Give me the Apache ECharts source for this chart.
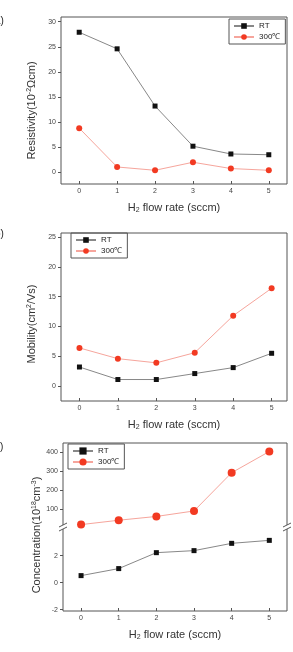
<!DOCTYPE html>
<html>
<head>
<meta charset="utf-8">
<script src="https://cdn.jsdelivr.net/npm/echarts@6/dist/echarts.min.js"></script>
<style>
    html, body { margin: 0; padding: 0; background: #fff; }
    #main { width: 293px; height: 652px; }
</style>
</head>
<body>
<div id="main"></div>
<script>
// H2 flow rate (sccm)
var flowRates = [0, 1, 2, 3, 4, 5];
var flowTicks = [0, 1, 2, 3, 4, 5];

// a) resistivity (10^-2 ohm cm)
var resRT = [27.9, 24.6, 13.2, 5.2, 3.65, 3.5];
var res300 = [8.8, 1.06, 0.4, 2.0, 0.75, 0.4];
var resTicks = [0, 5, 10, 15, 20, 25, 30];

// b) mobility (cm2/Vs)
var mobRT = [3.2, 1.1, 1.1, 2.1, 3.1, 5.5];
var mob300 = [6.4, 4.6, 3.9, 5.6, 11.8, 16.4];
var mobTicks = [0, 5, 10, 15, 20, 25];

// c) concentration (10^18 cm-3), broken axis
var conRT = [0.52, 1.04, 2.22, 2.37, 2.91, 3.13];
var con300 = [17, 40, 60, 89, 291, 403];
var conHighTicks = [100, 200, 300, 400];
var conLowTicks = [-2, 0, 2];

var frameColor = '#555';
var labelColor = '#444';
var fontName = 'Liberation Sans';

function pairs(ys) {
    return flowRates.map(function (x, i) { return [x, ys[i]]; });
}

function rtSeries(ys, grid, size) {
    return {
        name: 'RT', type: 'line', xAxisIndex: grid, yAxisIndex: grid,
        data: pairs(ys), symbol: 'rect', symbolSize: size || 5,
        itemStyle: { color: '#111' },
        lineStyle: { color: '#888', width: 1 },
        z: 3
    };
}

function hotSeries(ys, grid, size) {
    return {
        name: '300℃', type: 'line', xAxisIndex: grid, yAxisIndex: grid,
        data: pairs(ys), symbol: 'circle', symbolSize: size || 6,
        itemStyle: { color: '#f23a22' },
        lineStyle: { color: '#f6a59c', width: 1 },
        z: 2
    };
}

function nameStyle(shift) {
    return {
        fontFamily: fontName, fontSize: 11, color: '#333',
        // extra right padding pushes a rotated name down the axis
        padding: [0, shift || 0, 0, 0],
        rich: {
            sup: { fontFamily: fontName, fontSize: 7, color: '#333', padding: [0, 0, 6, 0] },
            sub: { fontFamily: fontName, fontSize: 7, color: '#333', padding: [6, 0, 0, 0] }
        }
    };
}

function xAxisFor(grid, min, max, showLabel, pos) {
    return {
        type: 'value', gridIndex: grid, min: min, max: max, position: pos || 'bottom',
        name: showLabel ? 'H{sub|2} flow rate (sccm)' : '',
        nameLocation: 'middle', nameGap: 17, nameTextStyle: nameStyle(0),
        axisLine: { show: false, onZero: false },
        axisTick: { show: showLabel, inside: true, length: 3, lineStyle: { color: frameColor }, customValues: flowTicks },
        axisLabel: { show: showLabel, fontSize: 7, color: labelColor, fontFamily: fontName, margin: 4, customValues: flowTicks },
        splitLine: { show: false }
    };
}

function yAxisFor(grid, min, max, ticks, name, shift) {
    return {
        type: 'value', gridIndex: grid, min: min, max: max,
        name: name || '', nameLocation: 'middle', nameGap: 13, nameTextStyle: nameStyle(shift),
        axisLine: { show: false, onZero: false },
        axisTick: { show: true, inside: false, length: 3, lineStyle: { color: frameColor }, customValues: ticks },
        axisLabel: { fontSize: 7, color: labelColor, fontFamily: fontName, margin: 5, customValues: ticks },
        splitLine: { show: false }
    };
}

function legendAt(left, top, itemH) {
    return {
        data: ['RT', '300℃'], orient: 'vertical', left: left, top: top,
        padding: [3, 5, 3, 4], itemGap: 3, itemWidth: 20, itemHeight: itemH || 7,
        borderColor: frameColor, borderWidth: 1, borderRadius: 0,
        textStyle: { fontSize: 8, color: '#222', fontFamily: fontName },
        selectedMode: false
    };
}

// slanted "//" mark on an axis line where the c) axis is broken
function breakMark(x, y) {
    return {
        type: 'group', x: x, y: y, z: 100,
        children: [
            { type: 'rect', shape: { x: -4, y: -2, width: 8, height: 4 }, style: { fill: '#fff' } },
            { type: 'line', shape: { x1: -4, y1: 0, x2: 4, y2: -4 }, style: { stroke: frameColor, lineWidth: 1 } },
            { type: 'line', shape: { x1: -4, y1: 4, x2: 4, y2: 0 }, style: { stroke: frameColor, lineWidth: 1 } }
        ]
    };
}

var chart = echarts.init(document.getElementById('main'));

var option = {
    backgroundColor: '#fff',
    animation: false,
    textStyle: { fontFamily: fontName },
    grid: [
        { left: 61, top: 17, width: 226, height: 167, show: true, borderColor: frameColor, borderWidth: 1 },
        { left: 61, top: 233, width: 226, height: 168, show: true, borderColor: frameColor, borderWidth: 1 },
        { left: 63, top: 443, width: 224, height: 84 },
        { left: 63, top: 527, width: 224, height: 84 }
    ],
    xAxis: [
        xAxisFor(0, -0.48, 5.48, true),
        xAxisFor(1, -0.48, 5.40, true),
        xAxisFor(2, -0.48, 5.47, false, 'top'),
        xAxisFor(3, -0.48, 5.47, true)
    ],
    yAxis: [
        yAxisFor(0, -2.33, 30.94, resTicks, 'Resistivity(10{sup|-2}Ωcm)', 20),
        yAxisFor(1, -2.5, 25.67, mobTicks, 'Mobility(cm{sup|2}/Vs)', 14),
        yAxisFor(2, 4.3, 447.9, conHighTicks),
        yAxisFor(3, -2.1, 4.12, conLowTicks)
    ],
    legend: [
        legendAt(229, 19),
        legendAt(71, 233),
        legendAt(68, 444, 9)
    ],
    series: [
        rtSeries(resRT, 0), hotSeries(res300, 0),
        rtSeries(mobRT, 1), hotSeries(mob300, 1),
        hotSeries(con300, 2, 8),
        rtSeries(conRT, 3)
    ],
    graphic: [
        // panel letters, cut at the left edge as in the scan
        { type: 'text', left: -5, top: 16, style: { text: 'a)', fontSize: 10, fill: '#222', fontFamily: fontName } },
        { type: 'text', left: -5, top: 229, style: { text: 'b)', fontSize: 10, fill: '#222', fontFamily: fontName } },
        { type: 'text', left: -5, top: 442, style: { text: 'c)', fontSize: 10, fill: '#222', fontFamily: fontName } },
        // frame of the broken c) panel
        { type: 'line', shape: { x1: 63, y1: 443, x2: 287, y2: 443 }, style: { stroke: frameColor, lineWidth: 1 } },
        { type: 'line', shape: { x1: 63, y1: 611, x2: 287, y2: 611 }, style: { stroke: frameColor, lineWidth: 1 } },
        { type: 'line', shape: { x1: 63, y1: 443, x2: 63, y2: 611 }, style: { stroke: frameColor, lineWidth: 1 } },
        { type: 'line', shape: { x1: 287, y1: 443, x2: 287, y2: 611 }, style: { stroke: frameColor, lineWidth: 1 } },
        breakMark(63, 527),
        breakMark(287, 527),
        {
            type: 'text', x: 37, y: 535, rotation: Math.PI / 2,
            style: {
                text: 'Concentration(10{sup|18}cm{sup|-3})', align: 'center', verticalAlign: 'middle',
                fontSize: 11, fill: '#333', fontFamily: fontName,
                rich: {
                    sup: { fontSize: 7, fill: '#333', fontFamily: fontName, padding: [0, 0, 6, 0] }
                }
            }
        }
    ]
};

chart.setOption(option);
</script>
</body>
</html>
